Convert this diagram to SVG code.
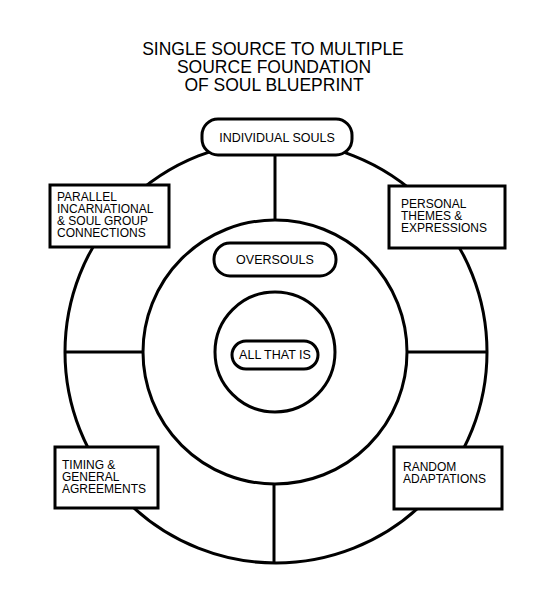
<svg xmlns="http://www.w3.org/2000/svg" width="553" height="604" viewBox="0 0 553 604">
<style>
text{font-family:"Liberation Sans",Arial,sans-serif;fill:#000}
.title{font-size:17.5px;text-anchor:middle}
.pill{font-size:12.5px;text-anchor:middle}
.lbl{font-size:12px}
.ring{fill:none;stroke:#000;stroke-width:3}
.box{fill:#fff;stroke:#000;stroke-width:3}
.conn{stroke:#000;stroke-width:3;fill:none}
</style>
<rect width="553" height="604" fill="#fff"/>
<g id="title">
<text class="title" x="273" y="54.5">SINGLE SOURCE TO MULTIPLE<tspan x="274" dy="18">SOURCE FOUNDATION</tspan><tspan x="274" dy="18">OF SOUL BLUEPRINT</tspan></text>
</g>
<g id="rings">
<circle class="ring" cx="276" cy="352" r="211"/>
<circle class="ring" cx="275" cy="352" r="132"/>
<circle class="ring" cx="275" cy="352" r="60"/>
</g>
<g id="connectors">
<line class="conn" x1="275" y1="156" x2="275" y2="220"/>
<line class="conn" x1="274" y1="484" x2="274" y2="563"/>
<line class="conn" x1="65" y1="352" x2="143" y2="352"/>
<line class="conn" x1="407" y1="352" x2="488" y2="352"/>
</g>
<g id="individual-souls">
<rect class="box" x="202" y="119" width="150" height="36" rx="16"/>
<text class="pill" x="277" y="141.5">INDIVIDUAL SOULS</text>
</g>
<g id="oversouls">
<rect class="box" x="214" y="243" width="122" height="33" rx="16"/>
<text class="pill" x="275" y="263.5">OVERSOULS</text>
</g>
<g id="all-that-is">
<rect class="box" x="232" y="341" width="86" height="28" rx="14"/>
<text class="pill" x="275" y="358.5">ALL THAT IS</text>
</g>
<g id="parallel">
<rect class="box" x="50" y="185" width="119" height="62"/>
<text class="lbl" x="57" y="200.5">PARALLEL<tspan x="57" dy="12">INCARNATIONAL</tspan><tspan x="57" dy="12">&amp; SOUL GROUP</tspan><tspan x="57" dy="12">CONNECTIONS</tspan></text>
</g>
<g id="personal">
<rect class="box" x="389" y="186" width="116" height="62"/>
<text class="lbl" x="401" y="207.5">PERSONAL<tspan x="401" dy="12">THEMES &amp;</tspan><tspan x="401" dy="12">EXPRESSIONS</tspan></text>
</g>
<g id="timing">
<rect class="box" x="55" y="447" width="103" height="61"/>
<text class="lbl" x="62" y="469">TIMING &amp;<tspan x="62" dy="12">GENERAL</tspan><tspan x="62" dy="12">AGREEMENTS</tspan></text>
</g>
<g id="random">
<rect class="box" x="394" y="447" width="108" height="62"/>
<text class="lbl" x="403" y="471">RANDOM<tspan x="403" dy="12">ADAPTATIONS</tspan></text>
</g>
</svg>
